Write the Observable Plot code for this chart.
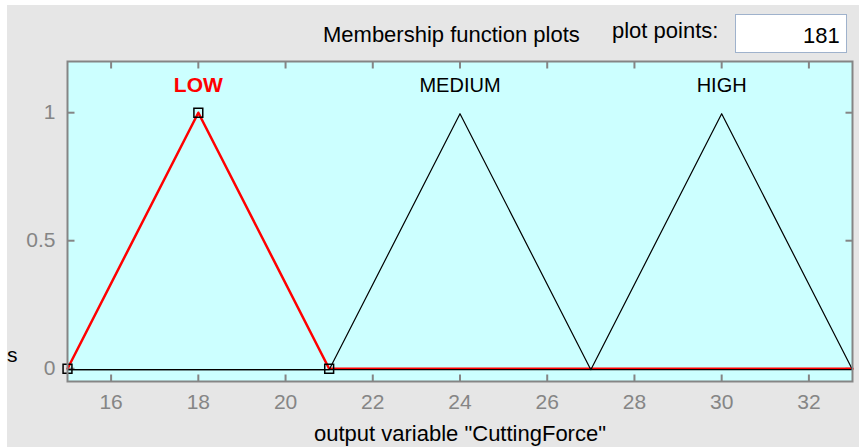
<!DOCTYPE html>
<html><head><meta charset="utf-8">
<script src="https://cdn.jsdelivr.net/npm/d3@7"></script>
<script src="https://cdn.jsdelivr.net/npm/@observablehq/plot@0.6"></script>
<style>
html,body{margin:0;padding:0;background:#fff;}
#wrap{position:relative;width:859px;height:447px;overflow:hidden;font-family:"Liberation Sans",Arial,sans-serif;}
#panel{position:absolute;left:7px;top:5px;width:852px;height:442px;background:#e6e6e6;}
#chart{position:absolute;left:0;top:0;}
.t{position:absolute;white-space:nowrap;color:#000;line-height:1;}
#box{position:absolute;left:735px;top:14px;width:112px;height:39px;background:#fff;border:1px solid #9fb2cc;box-sizing:border-box;}
</style></head>
<body>
<div id="wrap">
<div id="panel"></div>
<div id="chart"></div>
<div class="t" style="left:323px;top:24px;font-size:22px;">Membership function plots</div>
<div class="t" style="left:612px;top:20px;font-size:22px;">plot points:</div>
<div id="box"></div>
<div class="t" style="left:803px;top:25px;font-size:22px;">181</div>
<div class="t" style="left:7px;top:344px;font-size:21px;">s</div>
</div>
<script>
const categories = ["LOW", "MEDIUM", "HIGH"];
const params = [[15, 18, 21], [21, 24, 27], [27, 30, 33]];
const xDomain = [15, 33];
const yDomain = [-0.05, 1.2];
const xTicks = [16, 18, 20, 22, 24, 26, 28, 30, 32];
const yTicks = [0, 0.5, 1];
const yTickLabels = ["0", "0.5", "1"];
const labelY = 1.1;
const selected = "LOW";
const xLabel = 'output variable "CuttingForce"';

const W = 859, H = 447, mL = 67, mR = 7, mT = 61, mB = 66, tick = 7;
const innerW = W - mL - mR, innerH = H - mT - mB;
const ty = tick * (yDomain[1] - yDomain[0]) / innerH;
const tx = tick * (xDomain[1] - xDomain[0]) / innerW;

const lines = [];
categories.forEach((c, i) => {
  const [a, b, cc] = params[i];
  [[xDomain[0], 0], [a, 0], [b, 1], [cc, 0], [xDomain[1], 0]].forEach(([x, y]) => lines.push({name: c, x, y}));
});
const selIdx = categories.indexOf(selected);
const markers = params[selIdx].map((x, k) => ({x, y: k === 1 ? 1 : 0}));
const labels = categories.map((c, i) => ({name: c, x: params[i][1], y: labelY}));
const bottomTicks = xTicks.map(x => ({x, y1: yDomain[0], y2: yDomain[0] + ty}));
const topTicks = xTicks.map(x => ({x, y1: yDomain[1], y2: yDomain[1] - ty}));
const leftTicks = yTicks.map(y => ({y, x1: xDomain[0], x2: xDomain[0] + tx}));
const rightTicks = yTicks.map(y => ({y, x1: xDomain[1], x2: xDomain[1] - tx}));

const gray = "#858585";
const chart = Plot.plot({
  width: W, height: H,
  marginLeft: mL, marginRight: mR, marginTop: mT, marginBottom: mB,
  style: {background: "transparent", fontFamily: '"Liberation Sans", Arial, sans-serif'},
  x: {domain: xDomain},
  y: {domain: yDomain},
  marks: [
    Plot.frame({fill: "#ccffff", stroke: null}),
    Plot.axisX({anchor: "bottom", ticks: xTicks, tickSize: 0, tickPadding: 13, fontSize: 21, color: gray, label: null}),
    Plot.axisY({anchor: "left", ticks: yTicks, tickFormat: d => yTickLabels[yTicks.indexOf(d)], tickSize: 0, tickPadding: 12, fontSize: 21, color: gray, label: null}),
    Plot.link(bottomTicks, {x1: "x", x2: "x", y1: "y1", y2: "y2", stroke: gray, strokeWidth: 2}),
    Plot.link(topTicks, {x1: "x", x2: "x", y1: "y1", y2: "y2", stroke: gray, strokeWidth: 2}),
    Plot.link(leftTicks, {x1: "x1", x2: "x2", y1: "y", y2: "y", stroke: gray, strokeWidth: 2}),
    Plot.link(rightTicks, {x1: "x1", x2: "x2", y1: "y", y2: "y", stroke: gray, strokeWidth: 2}),
    Plot.line(lines.filter(d => d.name === selected), {x: "x", y: "y", stroke: "red", strokeWidth: 2.5}),
    Plot.line(lines.filter(d => d.name !== selected), {x: "x", y: "y", z: "name", stroke: "black", strokeWidth: 1.2, dy: 1}),
    Plot.dot(markers, {x: "x", y: "y", symbol: "square", r: 5, stroke: "black", strokeWidth: 1.5, fill: "none"}),
    Plot.text(labels.filter(d => d.name === selected), {x: "x", y: "y", text: "name", fill: "red", fontWeight: "bold", fontSize: 21, dy: -2}),
    Plot.text(labels.filter(d => d.name !== selected), {x: "x", y: "y", text: "name", fill: "black", fontSize: 20, dy: -2}),
    Plot.frame({stroke: gray, strokeWidth: 2}),
    Plot.text([xLabel], {frameAnchor: "bottom", dy: 59, text: d => d, fontSize: 22, fill: "black"})
  ]
});
document.getElementById("chart").appendChild(chart);
</script>
</body></html>
